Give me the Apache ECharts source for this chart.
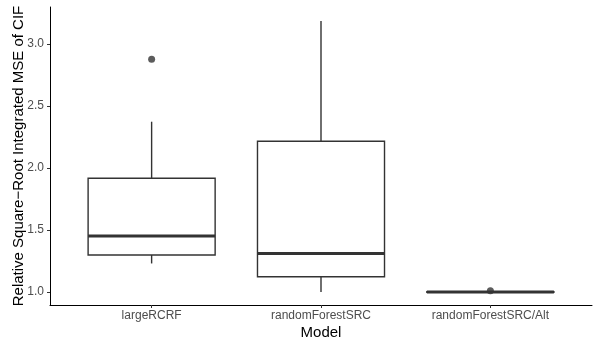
<!DOCTYPE html>
<html>
<head>
<meta charset="utf-8">
<script src="https://cdn.jsdelivr.net/npm/echarts@6/dist/echarts.min.js"></script>
<style>
  html, body { margin: 0; padding: 0; background: #fff; }
  #chart { width: 600px; height: 350px; }
</style>
</head>
<body>
<div id="chart"></div>
<script>
// 分类与箱线图统计量
const categories = ['largeRCRF', 'randomForestSRC', 'randomForestSRC/Alt'];
const whiskerLow = [1.23, 1.0, 0.996];
const q1 = [1.298, 1.123, 0.998];
const medians = [1.452, 1.31, 1.0];
const q3 = [1.917, 2.215, 1.002];
const whiskerHigh = [2.373, 3.185, 1.005];
// 离群点
const outlierGroup = [0, 2];
const outlierValue = [2.877, 1.01];
const yTicks = [1.0, 1.5, 2.0, 2.5, 3.0];

const positions = categories.map((c, i) => i + 1);
const boxData = positions.map((p, i) => [p, whiskerLow[i], q1[i], medians[i], q3[i], whiskerHigh[i]]);
const outlierData = outlierGroup.map((g, i) => [g + 1, outlierValue[i]]);

const lineColor = '#333333';
const fontFamily = '"Liberation Sans", Arial, sans-serif';

function renderBox(params, api) {
  const x = api.value(0);
  const half = api.size([0.75, 0])[0] / 2;
  const low = api.coord([x, api.value(1)]);
  const b1 = api.coord([x, api.value(2)]);
  const med = api.coord([x, api.value(3)]);
  const b3 = api.coord([x, api.value(4)]);
  const high = api.coord([x, api.value(5)]);
  const stroke = { stroke: lineColor, lineWidth: 1.4 };
  return {
    type: 'group',
    children: [
      { type: 'line', shape: { x1: high[0], y1: high[1], x2: b3[0], y2: b3[1] }, style: stroke },
      { type: 'line', shape: { x1: low[0], y1: low[1], x2: b1[0], y2: b1[1] }, style: stroke },
      {
        type: 'rect',
        shape: { x: b3[0] - half, y: b3[1], width: half * 2, height: b1[1] - b3[1] },
        style: { fill: '#fff', stroke: lineColor, lineWidth: 1.4 },
      },
      {
        type: 'line',
        shape: { x1: med[0] - half, y1: med[1], x2: med[0] + half, y2: med[1] },
        style: { stroke: lineColor, lineWidth: 3 },
      },
    ],
  };
}

const myChart = echarts.init(document.getElementById('chart'));
myChart.setOption({
  animation: false,
  textStyle: { fontFamily },
  grid: { left: 50, right: 8, top: 7, bottom: 45 },
  xAxis: {
    type: 'value',
    min: 0.4,
    max: 3.6,
    name: 'Model',
    nameLocation: 'middle',
    nameGap: 20,
    nameMoveOverlap: false,
    nameTextStyle: { color: '#000', fontSize: 15, fontFamily },
    splitLine: { show: false },
    axisLine: { show: true, onZero: false, lineStyle: { color: '#000', width: 1 } },
    axisTick: { show: true, length: 3, customValues: positions, lineStyle: { color: lineColor } },
    axisLabel: {
      customValues: positions,
      margin: 5,
      color: '#4D4D4D',
      fontSize: 12,
      fontFamily,
      formatter: (v) => categories[Math.round(v) - 1] || '',
    },
  },
  yAxis: {
    type: 'value',
    min: 0.895,
    max: 3.298,
    name: 'Relative Square\u2212Root Integrated MSE of CIF',
    nameLocation: 'middle',
    nameGap: 24,
    nameMoveOverlap: false,
    nameTextStyle: { color: '#000', fontSize: 15, fontFamily },
    splitLine: { show: false },
    axisLine: { show: true, onZero: false, lineStyle: { color: '#000', width: 1 } },
    axisTick: { show: true, length: 3, customValues: yTicks, lineStyle: { color: lineColor } },
    axisLabel: {
      customValues: yTicks,
      margin: 6,
      color: '#4D4D4D',
      fontSize: 12,
      fontFamily,
      formatter: (v) => v.toFixed(1),
    },
  },
  series: [
    {
      type: 'custom',
      renderItem: renderBox,
      encode: { x: 0, y: [1, 2, 3, 4, 5] },
      data: boxData,
      clip: false,
    },
    {
      type: 'scatter',
      symbolSize: 7,
      itemStyle: { color: lineColor },
      data: outlierData,
      z: 5,
    },
  ],
});
</script>
</body>
</html>
